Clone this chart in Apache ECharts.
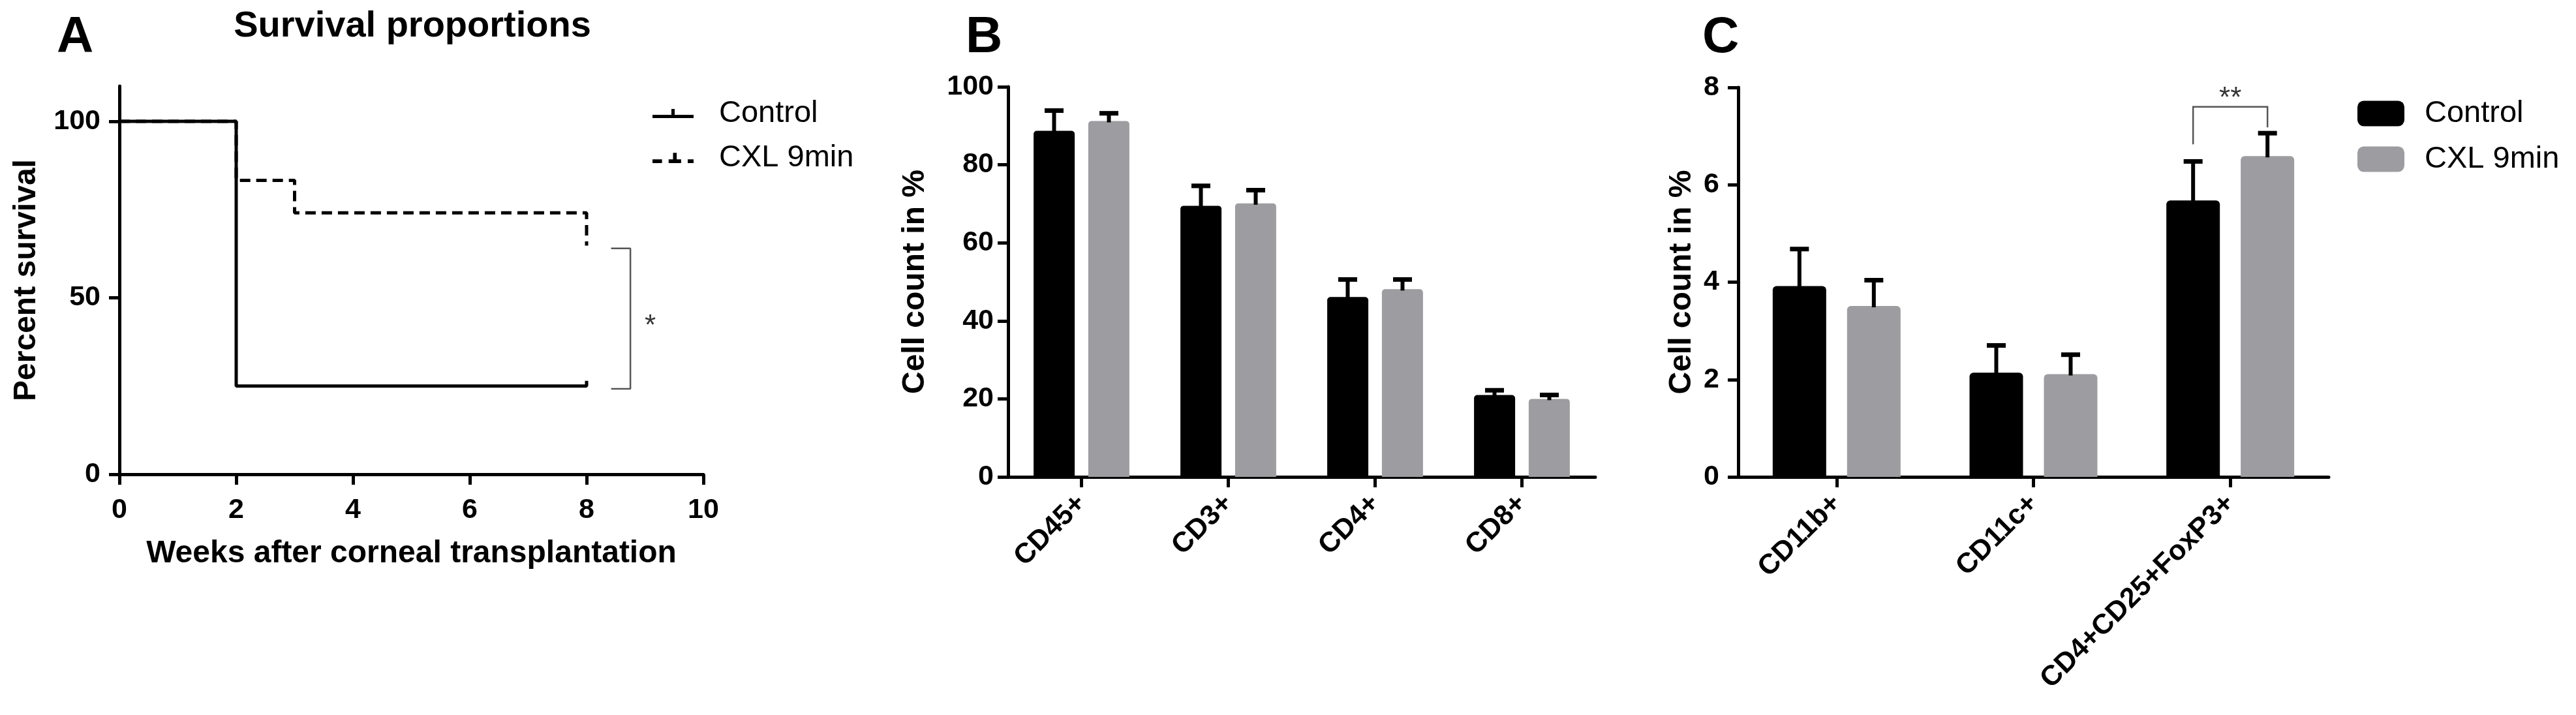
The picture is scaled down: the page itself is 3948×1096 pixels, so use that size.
<!DOCTYPE html>
<html><head><meta charset="utf-8">
<script src="https://cdn.jsdelivr.net/npm/echarts@6/dist/echarts.min.js"></script>
<style>html,body{margin:0;padding:0;background:#fff}#c{width:3948px;height:1096px}</style>
</head><body><div id="c"></div><script>
// ---- Panel A: Kaplan-Meier survival ----
const controlWeeks = [0, 2, 2, 8, 8];
const controlPct   = [100, 100, 25, 25, 26.5];
const cxlWeeks     = [0, 2, 2, 3, 3, 8, 8];
const cxlPct       = [100, 100, 83.3, 83.3, 74.1, 74.1, 64.8];
const survTicksY   = [0, 50, 100];
const bracketAWeeks = [8.42, 8.75, 8.75, 8.42];
const bracketAPct   = [64, 64, 24.2, 24.2];
const starA = [9.09, 41.8];

// ---- Panel B ----
const catsB    = ['CD45+', 'CD3+', 'CD4+', 'CD8+'];
const ctrlB    = [88.7, 69.5, 46.1, 21.0];
const ctrlBErr = [5.2, 5.1, 4.5, 1.2];
const cxlB     = [91.2, 70.1, 48.1, 20.0];
const cxlBErr  = [2.0, 3.4, 2.5, 1.0];

// ---- Panel C ----
const catsC    = ['CD11b+', 'CD11c+', 'CD4+CD25+FoxP3+'];
const ctrlC    = [3.92, 2.14, 5.68];
const ctrlCErr = [0.76, 0.56, 0.80];
const cxlC     = [3.51, 2.11, 6.59];
const cxlCErr  = [0.53, 0.40, 0.47];
const sigC     = [2, 6.83, 7.6, 7.18];  // category, left leg bottom, bracket top, right leg bottom
const sigCLabel = [2, 7.76];

const FONT = '"Liberation Sans", Arial, Helvetica, sans-serif';
const GRAY = '#9d9da1';
const chart = echarts.init(document.getElementById('c'));

const axLine = {show: true, onZero: false, lineStyle: {color: '#000', width: 5}};
const axTick = {show: true, length: 16, inside: false, lineStyle: {color: '#000', width: 5}};
const nameStyle = {fontSize: 48, fontWeight: 'bold', color: '#000', fontFamily: FONT};
const lab = (m) => ({fontSize: 43, fontWeight: 'bold', color: '#000', fontFamily: FONT, margin: m});

const ICON_SOLID = 'path://M0,11h63v5H0z M29,2h5v9h-5z';
const ICON_DASH  = 'path://M0,11h13v5H0z M22,11h17v5H22z M28,2h5v9h-5z M48,11h8v5h-8z';

function errItem(offset, capW) {
  return function (params, api) {
    const c = api.value(0), v = api.value(1), e = api.value(2);
    const p0 = api.coord([c, v]);
    const p1 = api.coord([c, v + e]);
    const x = p0[0] + offset;
    return {type: 'group', children: [
      {type: 'line', shape: {x1: x, y1: p0[1] + 2, x2: x, y2: p1[1]}, style: {stroke: '#000', lineWidth: 6}},
      {type: 'line', shape: {x1: x - capW / 2, y1: p1[1], x2: x + capW / 2, y2: p1[1]}, style: {stroke: '#000', lineWidth: 7}}
    ]};
  };
}

const option = {
  animation: false,
  backgroundColor: '#fff',
  textStyle: {fontFamily: FONT},
  title: [
    {text: 'A', left: 87, top: 19, padding: 0, textStyle: {fontSize: 78, fontWeight: 'bold', color: '#000', fontFamily: FONT}},
    {text: 'B', left: 1480, top: 19, padding: 0, textStyle: {fontSize: 78, fontWeight: 'bold', color: '#000', fontFamily: FONT}},
    {text: 'C', left: 2609, top: 19, padding: 0, textStyle: {fontSize: 78, fontWeight: 'bold', color: '#000', fontFamily: FONT}},
    {text: 'Survival proportions', left: 632, textAlign: 'center', top: 13, padding: 0, textStyle: {fontSize: 56, fontWeight: 'bold', color: '#000', fontFamily: FONT}}
  ],
  legend: [
    {data: [{name: 'Control', icon: ICON_SOLID}, {name: 'CXL 9min', icon: ICON_DASH}],
     orient: 'vertical', left: 1000, top: 150, padding: 0,
     itemWidth: 63, itemHeight: 18, itemGap: 20, selectedMode: false,
     itemStyle: {color: '#000', borderWidth: 0},
     textStyle: {fontSize: 47, lineHeight: 48, color: '#000', fontFamily: FONT, padding: [0, 0, 0, 34]}},
    {data: ['Control ', 'CXL 9min '], orient: 'vertical', left: 3613, top: 150, padding: 0,
     itemWidth: 72, itemHeight: 39, itemGap: 22, icon: 'roundRect', selectedMode: false,
     formatter: (n) => n.trim(),
     textStyle: {fontSize: 47, lineHeight: 48, color: '#000', fontFamily: FONT, padding: [0, 0, 0, 26]}}
  ],
  grid: [
    {left: 183, top: 132, width: 895, height: 595},
    {left: 1545, top: 133, width: 900, height: 598},
    {left: 2664, top: 134, width: 905, height: 597}
  ],
  xAxis: [
    {gridIndex: 0, type: 'value', min: 0, max: 10, interval: 2, axisLine: axLine, axisTick: axTick,
     splitLine: {show: false}, axisLabel: lab(34),
     name: 'Weeks after corneal transplantation', nameLocation: 'middle', nameGap: 98, nameTextStyle: nameStyle},
    {gridIndex: 1, type: 'category', data: catsB, axisLine: axLine,
     axisTick: Object.assign({alignWithLabel: true}, axTick), splitLine: {show: false},
     axisLabel: Object.assign({rotate: 45, interval: 0}, lab(34))},
    {gridIndex: 2, type: 'category', data: catsC, axisLine: axLine,
     axisTick: Object.assign({alignWithLabel: true}, axTick), splitLine: {show: false},
     axisLabel: Object.assign({rotate: 45, interval: 0}, lab(34))}
  ],
  yAxis: [
    {gridIndex: 0, type: 'value', min: 0, max: 110, interval: 50, axisLine: axLine,
     axisTick: Object.assign({customValues: survTicksY}, axTick), splitLine: {show: false},
     axisLabel: Object.assign({customValues: survTicksY}, lab(29)),
     name: 'Percent survival', nameLocation: 'middle', nameGap: 118, nameRotate: 90, nameTextStyle: nameStyle},
    {gridIndex: 1, type: 'value', min: 0, max: 100, interval: 20, axisLine: axLine, axisTick: axTick,
     splitLine: {show: false}, axisLabel: lab(22),
     name: 'Cell count in %', nameLocation: 'middle', nameGap: 118, nameRotate: 90, nameTextStyle: nameStyle},
    {gridIndex: 2, type: 'value', min: 0, max: 8, interval: 2, axisLine: axLine, axisTick: axTick,
     splitLine: {show: false}, axisLabel: lab(29),
     name: 'Cell count in %', nameLocation: 'middle', nameGap: 62, nameRotate: 90, nameTextStyle: nameStyle}
  ],
  series: [
    {name: 'CXL 9min', type: 'line', xAxisIndex: 0, yAxisIndex: 0,
     data: cxlWeeks.map((w, i) => [w, cxlPct[i]]),
     symbol: 'none', z: 2,
     itemStyle: {color: '#000'}, lineStyle: {color: '#000', width: 5, type: [16, 9]}},
    {name: 'Control', type: 'line', xAxisIndex: 0, yAxisIndex: 0,
     data: controlWeeks.map((w, i) => [w, controlPct[i]]),
     symbol: 'none', z: 3,
     itemStyle: {color: '#000'}, lineStyle: {color: '#000', width: 5}},
    {name: 'sigA', type: 'line', xAxisIndex: 0, yAxisIndex: 0, silent: true,
     data: bracketAWeeks.map((w, i) => [w, bracketAPct[i]]),
     symbol: 'none', lineStyle: {color: '#555', width: 2.5}},
    {name: 'starA', type: 'scatter', xAxisIndex: 0, yAxisIndex: 0, silent: true,
     data: [starA], symbolSize: 1, itemStyle: {color: 'rgba(0,0,0,0)'},
     label: {show: true, position: 'inside', formatter: '*', fontSize: 44, color: '#000', fontFamily: FONT}},

    {name: 'Control ', type: 'bar', xAxisIndex: 1, yAxisIndex: 1, data: ctrlB,
     barWidth: 63, barGap: '33%', itemStyle: {color: '#000', borderRadius: [5, 5, 0, 0]}},
    {name: 'CXL 9min ', type: 'bar', xAxisIndex: 1, yAxisIndex: 1, data: cxlB,
     barWidth: 63, barGap: '33%', itemStyle: {color: GRAY, borderRadius: [5, 5, 0, 0]}},
    {name: 'errB1', type: 'custom', xAxisIndex: 1, yAxisIndex: 1, z: 5, silent: true,
     renderItem: errItem(-42, 29), encode: {x: 0, y: 1},
     data: catsB.map((c, i) => [i, ctrlB[i], ctrlBErr[i]])},
    {name: 'errB2', type: 'custom', xAxisIndex: 1, yAxisIndex: 1, z: 5, silent: true,
     renderItem: errItem(42, 29), encode: {x: 0, y: 1},
     data: catsB.map((c, i) => [i, cxlB[i], cxlBErr[i]])},

    {name: 'Control ', type: 'bar', xAxisIndex: 2, yAxisIndex: 2, data: ctrlC,
     barWidth: 82, barGap: '39%', itemStyle: {color: '#000', borderRadius: [6, 6, 0, 0]}},
    {name: 'CXL 9min ', type: 'bar', xAxisIndex: 2, yAxisIndex: 2, data: cxlC,
     barWidth: 82, barGap: '39%', itemStyle: {color: GRAY, borderRadius: [6, 6, 0, 0]}},
    {name: 'errC1', type: 'custom', xAxisIndex: 2, yAxisIndex: 2, z: 5, silent: true,
     renderItem: errItem(-57, 29), encode: {x: 0, y: 1},
     data: catsC.map((c, i) => [i, ctrlC[i], ctrlCErr[i]])},
    {name: 'errC2', type: 'custom', xAxisIndex: 2, yAxisIndex: 2, z: 5, silent: true,
     renderItem: errItem(57, 29), encode: {x: 0, y: 1},
     data: catsC.map((c, i) => [i, cxlC[i], cxlCErr[i]])},
    {name: 'sigC', type: 'custom', xAxisIndex: 2, yAxisIndex: 2, z: 5, silent: true,
     encode: {x: 0, y: [1, 2, 3]},
     renderItem: function (params, api) {
       const c = api.value(0);
       const pl = api.coord([c, api.value(1)]);
       const pt = api.coord([c, api.value(2)]);
       const pr = api.coord([c, api.value(3)]);
       const xl = pl[0] - 57, xr = pl[0] + 57;
       return {type: 'polyline', shape: {points: [[xl, pl[1]], [xl, pt[1]], [xr, pt[1]], [xr, pr[1]]]},
               style: {stroke: '#555', lineWidth: 2.5, fill: null}};
     },
     data: [sigC]},
    {name: 'sigCLabel', type: 'scatter', xAxisIndex: 2, yAxisIndex: 2, silent: true,
     data: [sigCLabel], symbolSize: 1, itemStyle: {color: 'rgba(0,0,0,0)'},
     label: {show: true, position: 'inside', formatter: '**', fontSize: 44, color: '#000', fontFamily: FONT}}
  ]
};
chart.setOption(option);
</script></body></html>
